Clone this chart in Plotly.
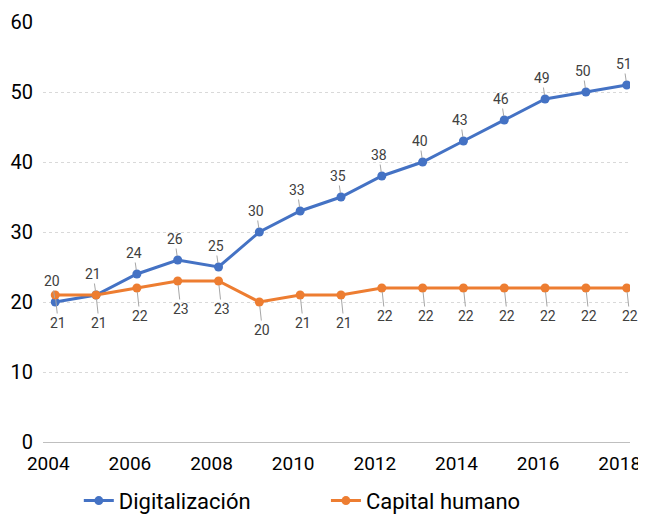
import plotly.graph_objects as go

years = list(range(2004, 2019))
digitalizacion = [20, 21, 24, 26, 25, 30, 33, 35, 38, 40, 43, 46, 49, 50, 51]
capital_humano = [21, 21, 22, 23, 23, 20, 21, 21, 22, 22, 22, 22, 22, 22, 22]
x_ticks = [2004, 2006, 2008, 2010, 2012, 2014, 2016, 2018]
y_ticks = [0, 10, 20, 30, 40, 50, 60]

BLUE = "#4472C4"
ORANGE = "#ED7D31"
FONT = "Roboto"

fig = go.Figure()
fig.add_trace(go.Scatter(x=years, y=digitalizacion, mode="lines+markers", name="Digitalización",
                         line=dict(color=BLUE, width=3), marker=dict(color=BLUE, size=9),
                         legend="legend"))
fig.add_trace(go.Scatter(x=years, y=capital_humano, mode="lines+markers", name="Capital humano",
                         line=dict(color=ORANGE, width=3), marker=dict(color=ORANGE, size=9),
                         legend="legend2"))

annotations = []
for x, v in zip(years, digitalizacion):
    annotations.append(dict(x=x, y=v, text=str(v), showarrow=True, arrowhead=0, arrowwidth=1,
                            arrowcolor="#A6A6A6", ax=-3, ay=-21, standoff=4,
                            font=dict(family=FONT, size=14, color="#404040")))
for x, v in zip(years, capital_humano):
    annotations.append(dict(x=x, y=v, text=str(v), showarrow=True, arrowhead=0, arrowwidth=1,
                            arrowcolor="#A6A6A6", ax=3, ay=28, standoff=4,
                            font=dict(family=FONT, size=14, color="#404040")))

legend_common = dict(orientation="h", yanchor="middle", y=-0.14, xanchor="left",
                     font=dict(size=22, color="black"), bgcolor="rgba(0,0,0,0)")

fig.update_layout(
    width=638, height=507,
    margin=dict(l=35, r=16, t=14, b=73, autoexpand=False),
    paper_bgcolor="white", plot_bgcolor="white",
    font=dict(family=FONT, color="black"),
    showlegend=True,
    legend=dict(x=0.061, **legend_common),
    legend2=dict(x=0.482, **legend_common),
    annotations=annotations,
    xaxis=dict(range=[2003.7, 2018.08], tickvals=x_ticks, ticktext=[str(t) for t in x_ticks],
               showgrid=False, zeroline=False, showline=False, ticks="", automargin=False,
               tickfont=dict(size=19, color="black"), ticklabelstandoff=8, ticklabelshift=-7),
    yaxis=dict(range=[0, 60], tickvals=y_ticks, showgrid=True, gridcolor="#D9D9D9",
               griddash="dot", gridwidth=1, zeroline=True, zerolinecolor="#BFBFBF",
               zerolinewidth=1, ticks="", tickfont=dict(size=20, color="black"),
               ticklabelstandoff=9, automargin=False),
)

fig.write_html("out.html")
